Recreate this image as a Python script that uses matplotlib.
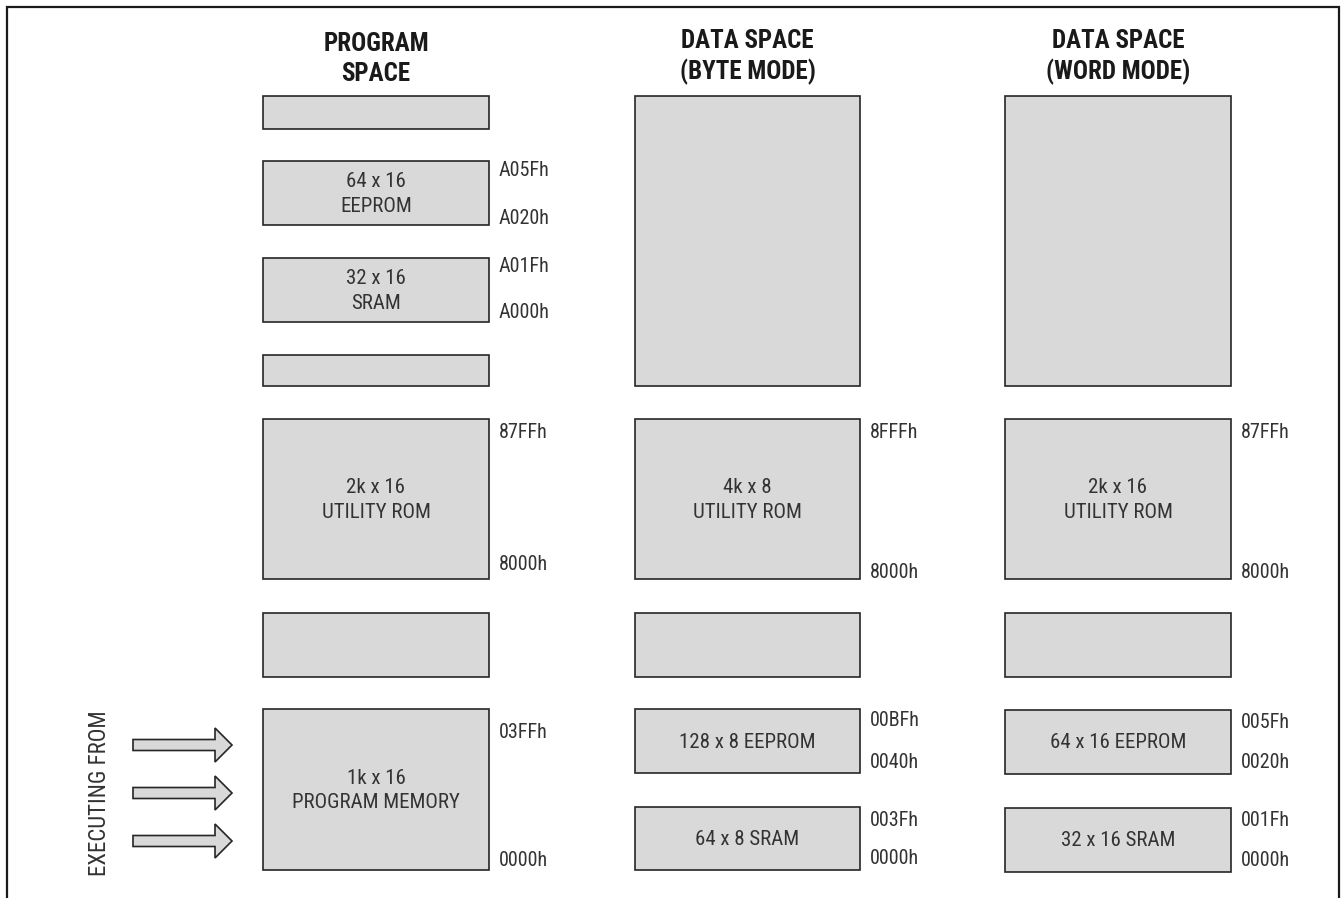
import matplotlib
matplotlib.use("Agg")
import matplotlib.pyplot as plt
from matplotlib import font_manager
from matplotlib.patches import Rectangle, FancyArrow

# condensed grotesque in the original; use a narrow face if there is one
installed = {f.name for f in font_manager.fontManager.ttflist}
narrow = [n for n in ('Liberation Sans Narrow', 'Roboto Condensed', 'Open Sans Condensed',
                      'Arial Narrow', 'Liberation Sans', 'Roboto') if n in installed]
is_narrow = bool(narrow) and ('Narrow' in narrow[0] or 'Condensed' in narrow[0])
plt.rcParams['font.family'] = narrow[:1] + ['DejaVu Sans']

# ---- content -------------------------------------------------------------
headers = ["PROGRAM\nSPACE", "DATA SPACE\n(BYTE MODE)", "DATA SPACE\n(WORD MODE)"]

prog_labels = ["", "64 x 16\nEEPROM", "32 x 16\nSRAM", "", "2k x 16\nUTILITY ROM", "", "1k x 16\nPROGRAM MEMORY"]
prog_hi = ["", "A05Fh", "A01Fh", "", "87FFh", "", "03FFh"]
prog_lo = ["", "A020h", "A000h", "", "8000h", "", "0000h"]

byte_labels = ["", "4k x 8\nUTILITY ROM", "", "128 x 8 EEPROM", "64 x 8 SRAM"]
byte_hi = ["", "8FFFh", "", "00BFh", "003Fh"]
byte_lo = ["", "8000h", "", "0040h", "0000h"]

word_labels = ["", "2k x 16\nUTILITY ROM", "", "64 x 16 EEPROM", "32 x 16 SRAM"]
word_hi = ["", "87FFh", "", "005Fh", "001Fh"]
word_lo = ["", "8000h", "", "0020h", "0000h"]

side_label = "EXECUTING FROM"

# ---- layout (pixel units) -------------------------------------------------
# column: (left, right, header y)
cols = [(263, 489, 59), (635, 860, 57), (1005, 1231, 57)]
# rows per column: (top, bottom, hi label y, lo label y)
prog_rows = [(96, 129, 0, 0), (161, 225, 171, 218), (258, 322, 267, 313),
             (355, 386, 0, 0), (419, 579, 433, 565), (613, 677, 0, 0),
             (709, 870, 733, 860)]
byte_rows = [(96, 386, 0, 0), (419, 579, 433, 572), (613, 677, 0, 0),
             (709, 773, 720, 763), (807, 870, 820, 858)]
word_rows = [(96, 386, 0, 0), (419, 579, 433, 572), (613, 677, 0, 0),
             (710, 774, 722, 762), (808, 872, 820, 860)]
arrow_y = [745, 793, 841]

fs_head = 18 if is_narrow else 16
fs_box = 15 if is_narrow else 13.5
fs_addr = 14.5 if is_narrow else 13
fs_side = 16.5 if is_narrow else 14

W, H = 1343, 898
fig = plt.figure(figsize=(W / 100, H / 100), dpi=100)
ax = fig.add_axes([0, 0, 1, 1])
ax.set_xlim(0, W)
ax.set_ylim(H, 0)
ax.axis('off')

fill = '#d9d9d9'
edge = '#262626'
txt = '#333333'

# outer frame (open at the bottom)
ax.plot([7, 7, 1339, 1339], [H, 7, 7, H], color='#1a1a1a', lw=1.6,
        solid_joinstyle='miter')

columns = [
    (prog_labels, prog_hi, prog_lo, prog_rows),
    (byte_labels, byte_hi, byte_lo, byte_rows),
    (word_labels, word_hi, word_lo, word_rows),
]

for (left, right, hy), header, (labels, his, los, rows) in zip(cols, headers, columns):
    cx = (left + right) / 2
    ax.text(cx, hy, header, ha='center', va='center', fontsize=fs_head,
            fontweight='bold', color='#1a1a1a', linespacing=1.3)
    for lab, hi, lo, (top, bot, hiy, loy) in zip(labels, his, los, rows):
        ax.add_patch(Rectangle((left, top), right - left, bot - top,
                               facecolor=fill, edgecolor=edge, lw=1.2))
        if lab:
            ax.text(cx, (top + bot) / 2 + 1, lab, ha='center', va='center',
                    fontsize=fs_box, color=txt, linespacing=1.35)
        if hi:
            ax.text(right + 10, hiy, hi, ha='left', va='center',
                    fontsize=fs_addr, color=txt)
        if lo:
            ax.text(right + 10, loy, lo, ha='left', va='center',
                    fontsize=fs_addr, color=txt)

# arrows into program memory
for y in arrow_y:
    ax.add_patch(FancyArrow(133, y, 99, 0, width=11, head_width=34,
                            head_length=17, length_includes_head=True,
                            facecolor=fill, edgecolor=edge, lw=1.2))

ax.text(99, 793, side_label, rotation=90, ha='center', va='center',
        fontsize=fs_side, color=txt)

fig.savefig('out.png', dpi=100, facecolor='white')
